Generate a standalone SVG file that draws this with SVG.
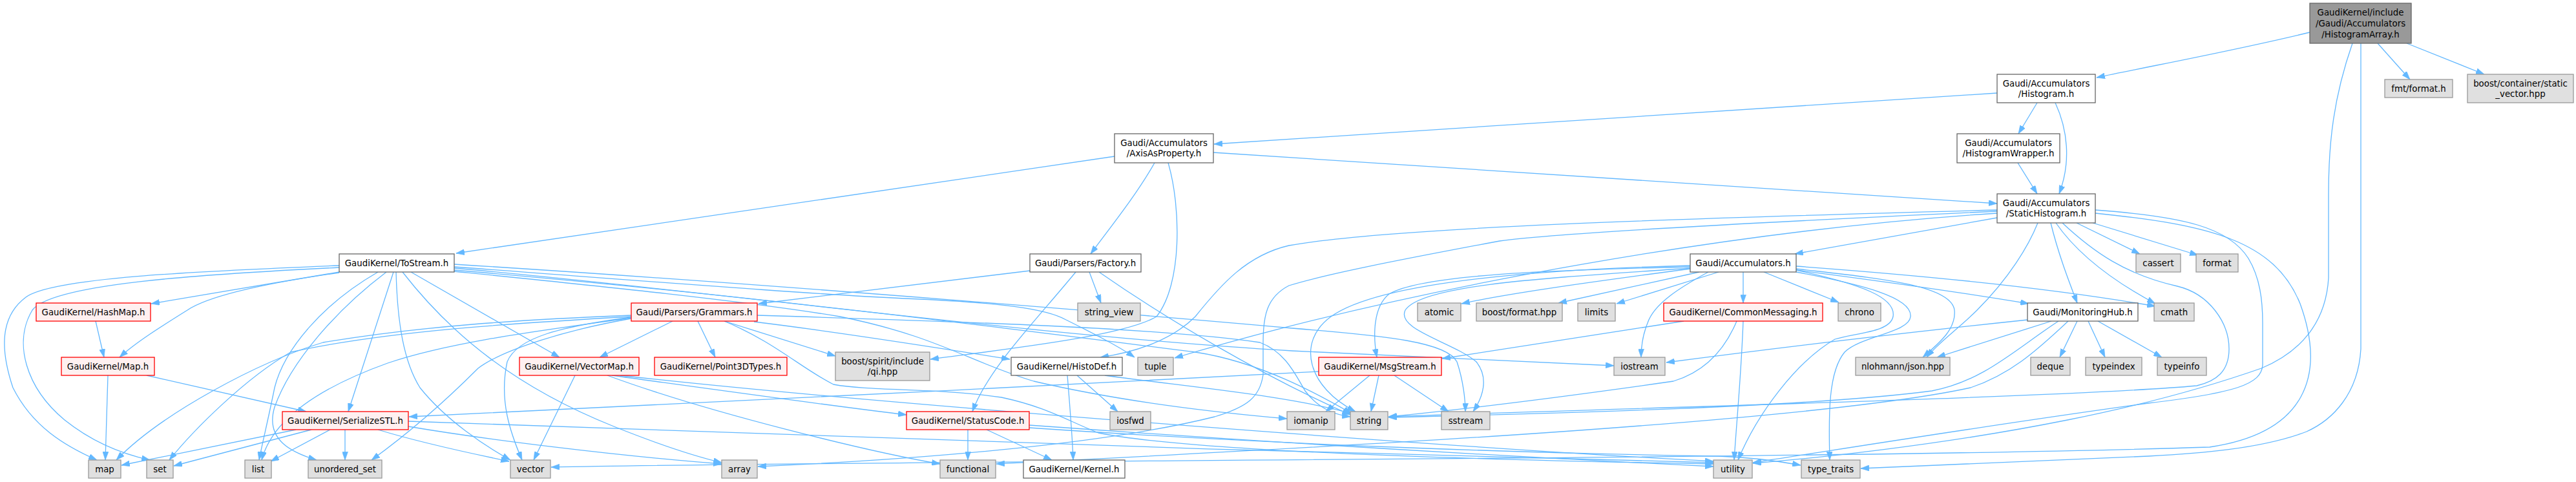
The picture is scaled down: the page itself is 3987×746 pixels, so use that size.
<svg xmlns="http://www.w3.org/2000/svg" width="3987" height="746" viewBox="0 0 3987 746">
<style>
.e{fill:none;stroke:#63b8ff;stroke-width:1.3;marker-end:url(#ah)}
.g{fill:#e0e0e0;stroke:#999999;stroke-width:1.3}
.w{fill:#ffffff;stroke:#666666;stroke-width:1.3}
.r{fill:#fff0f0;stroke:#ff0000;stroke-width:1.3}
.k{fill:#999999;stroke:#666666;stroke-width:1.3}
text{font-family:"DejaVu Sans","Liberation Sans",sans-serif;font-size:13.33px;text-anchor:middle;fill:#000000}
</style>
<defs>
<marker id="ah" viewBox="0 0 10 7" refX="10" refY="3.5" markerWidth="13" markerHeight="9" markerUnits="userSpaceOnUse" orient="auto"><path d="M0,0 L10,3.5 L0,7 z" fill="#63b8ff" stroke="#63b8ff" stroke-width="0.5"/></marker>
</defs>
<rect x="0" y="0" width="3987" height="746" fill="#ffffff"/>
<g id="edges">
<path class="e" d="M3575,50 C3460,78 3340,100 3245,120"/>
<path class="e" d="M3680,67 L3730,123"/>
<path class="e" d="M3725,67 L3845,115"/>
<path class="e" d="M3641,67 C3612,150 3604,220 3604,300 L3604,430 C3600,500 3560,545 3500,570 C3400,605 3300,630 3200,650 C3000,690 2800,710 2713,717"/>
<path class="e" d="M3654,67 L3654,540 C3650,610 3610,650 3570,668 C3500,695 3400,702 3325,706 C3100,715 2950,722 2880,725"/>
<path class="e" d="M3091,144 C2700,170 2300,197 1879,223"/>
<path class="e" d="M3153,159 L3124,207"/>
<path class="e" d="M3181,159 C3200,200 3206,250 3187,300"/>
<path class="e" d="M3123,252 L3153,300"/>
<path class="e" d="M1878,236 C2300,262 2700,288 3091,315"/>
<path class="e" d="M1787,252 C1760,300 1720,350 1688,393"/>
<path class="e" d="M1725,242 L706,392"/>
<path class="e" d="M1808,252 C1828,320 1830,440 1790,490 C1740,520 1560,540 1440,556"/>
<path class="e" d="M3091,337 L2778,393"/>
<path class="e" d="M3091,325 C2600,338 2150,352 1995,380 C1930,395 1890,440 1850,490 C1815,525 1760,545 1703,553"/>
<path class="e" d="M3091,330 C2700,355 2200,440 1818,554"/>
<path class="e" d="M3091,327 C2700,345 2400,362 2321,373 C2150,405 2050,425 1995,442 C1960,460 1955,490 1955,530 L1955,580 C1950,615 1930,630 1880,645 C1700,690 1400,712 1173,722"/>
<path class="e" d="M3243,330 C3420,348 3520,372 3560,470 C3600,580 3570,670 3420,692 C2800,712 1400,712 853,723"/>
<path class="e" d="M3243,325 C3380,335 3450,352 3480,400 C3498,430 3502,465 3502,500 L3502,565 C3500,595 3460,608 3325,624 C3050,662 2820,700 2713,716"/>
<path class="e" d="M3154,345 C3140,380 3110,430 3060,480 C3030,510 3000,530 2982,553"/>
<path class="e" d="M3174,345 C3185,390 3200,430 3215,469"/>
<path class="e" d="M3182,345 C3220,400 3280,440 3336,470"/>
<path class="e" d="M3192,345 C3240,390 3290,425 3370,443 C3420,455 3450,500 3450,540 C3450,575 3430,590 3400,597 C3200,615 2500,632 2149,645"/>
<path class="e" d="M3214,345 L3312,393"/>
<path class="e" d="M3239,345 L3402,395"/>
<path class="e" d="M2698,421 L2698,469"/>
<path class="e" d="M2730,421 L2846,468"/>
<path class="e" d="M2780,418 C2950,440 3050,455 3140,470"/>
<path class="e" d="M2780,412 C3000,428 3200,450 3336,474"/>
<path class="e" d="M2780,416 C2900,430 3020,440 3025,480 C3028,510 3000,532 2976,553"/>
<path class="e" d="M2780,421 C2880,440 2960,460 2957,490 C2955,515 2880,520 2855,545 C2830,575 2830,640 2832,712"/>
<path class="e" d="M2780,418 C2880,440 2935,460 2930,490 C2925,515 2870,515 2840,525 C2780,560 2720,640 2690,712"/>
<path class="e" d="M2644,421 C2600,445 2560,470 2550,500 C2542,520 2540,540 2540,553"/>
<path class="e" d="M2660,421 L2502,470"/>
<path class="e" d="M2630,421 L2412,469"/>
<path class="e" d="M2616,416 C2450,438 2330,455 2262,470"/>
<path class="e" d="M2616,413 C2400,418 2200,425 2150,455 C2125,475 2125,520 2131,553"/>
<path class="e" d="M2616,411 C2350,418 2130,440 2060,490 C2005,530 2025,600 2098,637"/>
<path class="e" d="M2616,415 C2400,430 2200,440 2175,480 C2160,510 2250,530 2285,560 C2305,585 2295,615 2280,637"/>
<path class="e" d="M2606,497 L2232,555"/>
<path class="e" d="M2688,497 C2670,540 2640,575 2590,590 C2450,610 2300,630 2149,645"/>
<path class="e" d="M2698,497 C2695,580 2688,650 2684,712"/>
<path class="e" d="M3138,495 C2900,520 2700,545 2579,561"/>
<path class="e" d="M3175,497 L2998,553"/>
<path class="e" d="M3186,497 C3120,540 3070,590 2990,605 C2800,630 2400,640 2149,646"/>
<path class="e" d="M3201,497 C3150,545 3110,580 3050,600 C2800,655 2000,695 1542,718"/>
<path class="e" d="M3215,497 L3188,553"/>
<path class="e" d="M3232,497 L3258,553"/>
<path class="e" d="M3247,497 L3346,553"/>
<path class="e" d="M2041,575 C1600,600 900,630 633,645"/>
<path class="e" d="M2120,581 L2052,637"/>
<path class="e" d="M2134,581 L2122,637"/>
<path class="e" d="M2158,581 L2242,637"/>
<path class="e" d="M1667,581 L1730,637"/>
<path class="e" d="M1652,581 C1656,630 1660,680 1661,712"/>
<path class="e" d="M1710,581 C1850,600 1990,612 2092,640"/>
<path class="e" d="M1498,665 L1498,712"/>
<path class="e" d="M1527,665 L1628,712"/>
<path class="e" d="M1593,658 C1900,680 2300,705 2652,722"/>
<path class="e" d="M1593,662 C2000,690 2400,702 2660,706 C2720,708 2760,715 2787,720"/>
<path class="e" d="M458,665 L188,720"/>
<path class="e" d="M482,665 L269,721"/>
<path class="e" d="M511,665 L419,714"/>
<path class="e" d="M534,665 L534,712"/>
<path class="e" d="M585,665 C650,685 720,700 788,714"/>
<path class="e" d="M632,660 C750,680 950,705 1117,718"/>
<path class="e" d="M632,652 C1000,670 2000,700 2652,716"/>
<path class="e" d="M890,581 L826,712"/>
<path class="e" d="M947,581 C1100,602 1300,630 1403,642"/>
<path class="e" d="M940,581 C1100,640 1350,700 1455,718"/>
<path class="e" d="M960,581 C1300,620 2200,690 2652,714"/>
<path class="e" d="M1041,497 L928,553"/>
<path class="e" d="M1080,497 L1107,553"/>
<path class="e" d="M1121,497 L1293,551"/>
<path class="e" d="M977,488 C800,495 650,505 500,530 C400,560 250,640 180,712"/>
<path class="e" d="M977,490 C800,500 600,512 450,545 C380,585 300,665 262,712"/>
<path class="e" d="M977,492 C850,510 700,528 600,562 C480,605 420,655 405,712"/>
<path class="e" d="M977,493 C880,510 780,540 740,570 C700,610 640,665 575,712"/>
<path class="e" d="M977,491 C870,505 800,522 785,560 C772,620 790,670 808,712"/>
<path class="e" d="M1167,498 C1250,508 1400,530 1563,556"/>
<path class="e" d="M1172,488 C1500,498 1800,508 1950,530 C1990,545 2005,580 2020,605 C2040,632 2065,642 2090,645"/>
<path class="e" d="M1121,497 C1200,530 1240,570 1290,595 C1350,606 1450,600 1550,615 C1620,630 1650,650 1700,670 C1850,700 2300,712 2652,718"/>
<path class="e" d="M1594,419 L1174,470"/>
<path class="e" d="M1665,421 C1600,500 1530,570 1505,637"/>
<path class="e" d="M1686,421 L1704,469"/>
<path class="e" d="M1701,421 C1800,490 1950,580 2090,642"/>
<path class="e" d="M525,421 L234,470"/>
<path class="e" d="M525,422 C400,440 320,460 290,480 C250,505 210,530 185,553"/>
<path class="e" d="M525,411 C300,420 80,430 40,460 C0,490 0,540 20,600 C50,660 100,690 150,712"/>
<path class="e" d="M525,414 C300,425 80,440 50,480 C20,530 40,600 100,650 C150,690 200,705 232,712"/>
<path class="e" d="M585,421 C500,470 440,540 425,600 C415,650 405,690 401,712"/>
<path class="e" d="M598,421 C520,480 450,560 425,630 C410,680 450,700 490,712"/>
<path class="e" d="M609,421 L539,637"/>
<path class="e" d="M636,421 L866,553"/>
<path class="e" d="M623,421 C700,520 800,600 950,660 C1050,700 1100,712 1117,716"/>
<path class="e" d="M613,421 C615,500 625,560 650,600 C690,650 750,690 790,712"/>
<path class="e" d="M703,415 C1100,450 1600,520 2000,543 C2200,553 2400,560 2498,566"/>
<path class="e" d="M703,409 C1200,440 1800,490 2000,508 C2150,520 2240,530 2255,560 C2265,590 2268,620 2268,637"/>
<path class="e" d="M703,413 C1000,435 1250,455 1400,462 C1550,468 1620,478 1650,495 C1690,515 1730,535 1756,553"/>
<path class="e" d="M703,418 C1200,460 1650,520 1850,545 C1950,560 2040,610 2092,640"/>
<path class="e" d="M703,420 C900,440 1150,465 1300,490 C1450,520 1500,560 1600,590 C1750,625 1900,640 1992,648"/>
<path class="e" d="M148,497 L161,553"/>
<path class="e" d="M167,581 L163,712"/>
<path class="e" d="M227,581 L474,637"/>
</g>
<g id="n-root"><rect class="k" x="3575" y="5" width="157" height="62"/><text x="3653.5" y="23.5">GaudiKernel/include</text><text x="3653.5" y="40.5">/Gaudi/Accumulators</text><text x="3653.5" y="57.5">/HistogramArray.h</text></g>
<g id="n-histogram"><rect class="w" x="3091" y="115" width="152" height="44"/><text x="3167" y="133.5">Gaudi/Accumulators</text><text x="3167" y="150">/Histogram.h</text></g>
<g id="n-fmt"><rect class="g" x="3691" y="123" width="105" height="28"/><text x="3743.5" y="141.5">fmt/format.h</text></g>
<g id="n-staticvector"><rect class="g" x="3819" y="115" width="164" height="44"/><text x="3901" y="133.5">boost/container/static</text><text x="3901" y="150">_vector.hpp</text></g>
<g id="n-axis"><rect class="w" x="1725" y="207" width="153" height="45"/><text x="1801.5" y="225.5">Gaudi/Accumulators</text><text x="1801.5" y="242">/AxisAsProperty.h</text></g>
<g id="n-wrapper"><rect class="w" x="3029" y="207" width="159" height="45"/><text x="3108.5" y="225.5">Gaudi/Accumulators</text><text x="3108.5" y="242">/HistogramWrapper.h</text></g>
<g id="n-static"><rect class="w" x="3091" y="300" width="152" height="45"/><text x="3167" y="318.5">Gaudi/Accumulators</text><text x="3167" y="335">/StaticHistogram.h</text></g>
<g id="n-tostream"><rect class="w" x="525" y="393" width="178" height="28"/><text x="614" y="411.5">GaudiKernel/ToStream.h</text></g>
<g id="n-factory"><rect class="w" x="1594" y="393" width="172" height="28"/><text x="1680" y="411.5">Gaudi/Parsers/Factory.h</text></g>
<g id="n-accumulators"><rect class="w" x="2616" y="393" width="164" height="28"/><text x="2698" y="411.5">Gaudi/Accumulators.h</text></g>
<g id="n-cassert"><rect class="g" x="3306" y="393" width="69" height="28"/><text x="3340.5" y="411.5">cassert</text></g>
<g id="n-format"><rect class="g" x="3399" y="393" width="65" height="28"/><text x="3431.5" y="411.5">format</text></g>
<g id="n-hashmap"><rect class="r" x="56" y="469" width="177" height="28"/><text x="144.5" y="487.5">GaudiKernel/HashMap.h</text></g>
<g id="n-grammars"><rect class="r" x="977" y="469" width="195" height="28"/><text x="1074.5" y="487.5">Gaudi/Parsers/Grammars.h</text></g>
<g id="n-string_view"><rect class="g" x="1668" y="469" width="97" height="28"/><text x="1716.5" y="487.5">string_view</text></g>
<g id="n-atomic"><rect class="g" x="2194" y="469" width="67" height="28"/><text x="2227.5" y="487.5">atomic</text></g>
<g id="n-boostformat"><rect class="g" x="2285" y="469" width="133" height="28"/><text x="2351.5" y="487.5">boost/format.hpp</text></g>
<g id="n-limits"><rect class="g" x="2442" y="469" width="58" height="28"/><text x="2471" y="487.5">limits</text></g>
<g id="n-commonmessaging"><rect class="r" x="2575" y="469" width="246" height="28"/><text x="2698" y="487.5">GaudiKernel/CommonMessaging.h</text></g>
<g id="n-chrono"><rect class="g" x="2845" y="469" width="66" height="28"/><text x="2878" y="487.5">chrono</text></g>
<g id="n-monitoringhub"><rect class="w" x="3138" y="469" width="171" height="28"/><text x="3223.5" y="487.5">Gaudi/MonitoringHub.h</text></g>
<g id="n-cmath"><rect class="g" x="3334" y="469" width="62" height="28"/><text x="3365" y="487.5">cmath</text></g>
<g id="n-maph"><rect class="r" x="95" y="553" width="144" height="28"/><text x="167" y="571.5">GaudiKernel/Map.h</text></g>
<g id="n-vectormap"><rect class="r" x="804" y="553" width="185" height="28"/><text x="896.5" y="571.5">GaudiKernel/VectorMap.h</text></g>
<g id="n-point3d"><rect class="r" x="1013" y="553" width="205" height="28"/><text x="1115.5" y="571.5">GaudiKernel/Point3DTypes.h</text></g>
<g id="n-spirit"><rect class="g" x="1293" y="545" width="146" height="44"/><text x="1366" y="563.5">boost/spirit/include</text><text x="1366" y="580">/qi.hpp</text></g>
<g id="n-histodef"><rect class="w" x="1565" y="553" width="172" height="28"/><text x="1651" y="571.5">GaudiKernel/HistoDef.h</text></g>
<g id="n-tuple"><rect class="g" x="1761" y="553" width="55" height="28"/><text x="1788.5" y="571.5">tuple</text></g>
<g id="n-msgstream"><rect class="r" x="2041" y="553" width="190" height="28"/><text x="2136" y="571.5">GaudiKernel/MsgStream.h</text></g>
<g id="n-iostream"><rect class="g" x="2498" y="553" width="79" height="28"/><text x="2537.5" y="571.5">iostream</text></g>
<g id="n-json"><rect class="g" x="2872" y="553" width="146" height="28"/><text x="2945" y="571.5">nlohmann/json.hpp</text></g>
<g id="n-deque"><rect class="g" x="3143" y="553" width="61" height="28"/><text x="3173.5" y="571.5">deque</text></g>
<g id="n-typeindex"><rect class="g" x="3228" y="553" width="87" height="28"/><text x="3271.5" y="571.5">typeindex</text></g>
<g id="n-typeinfo"><rect class="g" x="3339" y="553" width="76" height="28"/><text x="3377" y="571.5">typeinfo</text></g>
<g id="n-serializestl"><rect class="r" x="437" y="637" width="195" height="28"/><text x="534.5" y="655.5">GaudiKernel/SerializeSTL.h</text></g>
<g id="n-statuscode"><rect class="r" x="1403" y="637" width="190" height="28"/><text x="1498" y="655.5">GaudiKernel/StatusCode.h</text></g>
<g id="n-iosfwd"><rect class="g" x="1718" y="637" width="63" height="28"/><text x="1749.5" y="655.5">iosfwd</text></g>
<g id="n-iomanip"><rect class="g" x="1992" y="637" width="74" height="28"/><text x="2029" y="655.5">iomanip</text></g>
<g id="n-string"><rect class="g" x="2090" y="637" width="58" height="28"/><text x="2119" y="655.5">string</text></g>
<g id="n-sstream"><rect class="g" x="2231" y="637" width="75" height="28"/><text x="2268.5" y="655.5">sstream</text></g>
<g id="n-map"><rect class="g" x="137" y="712" width="50" height="28"/><text x="162" y="730.5">map</text></g>
<g id="n-set"><rect class="g" x="227" y="712" width="41" height="28"/><text x="247.5" y="730.5">set</text></g>
<g id="n-list"><rect class="g" x="379" y="712" width="41" height="28"/><text x="399.5" y="730.5">list</text></g>
<g id="n-unordered_set"><rect class="g" x="477" y="712" width="114" height="28"/><text x="534" y="730.5">unordered_set</text></g>
<g id="n-vector"><rect class="g" x="790" y="712" width="62" height="28"/><text x="821" y="730.5">vector</text></g>
<g id="n-array"><rect class="g" x="1117" y="712" width="55" height="28"/><text x="1144.5" y="730.5">array</text></g>
<g id="n-functional"><rect class="g" x="1455" y="712" width="86" height="28"/><text x="1498" y="730.5">functional</text></g>
<g id="n-kernel"><rect class="w" x="1584" y="712" width="157" height="28"/><text x="1662.5" y="730.5">GaudiKernel/Kernel.h</text></g>
<g id="n-utility"><rect class="g" x="2652" y="712" width="60" height="28"/><text x="2682" y="730.5">utility</text></g>
<g id="n-type_traits"><rect class="g" x="2788" y="712" width="91" height="28"/><text x="2833.5" y="730.5">type_traits</text></g>
</svg>
